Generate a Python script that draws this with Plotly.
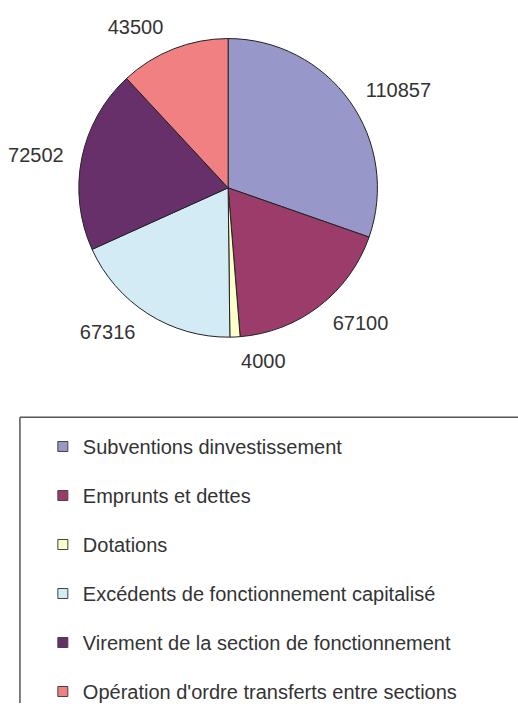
import plotly.graph_objects as go

labels = [
    "Subventions dinvestissement",
    "Emprunts et dettes",
    "Dotations",
    "Excédents de fonctionnement capitalisé",
    "Virement de la section de fonctionnement",
    "Opération d'ordre transferts entre sections",
]
values = [110857, 67100, 4000, 67316, 72502, 43500]
colors = ["#9797CA", "#9B3C6A", "#FFFFCC", "#D2EBF5", "#67306B", "#F08082"]

W, H = 518, 711
CX, CY, R = 227, 190, 151      # pie centre / radius in pixels
RL = 164                        # radius at which the value labels sit

fig = go.Figure()

# visible pie (no text)
fig.add_trace(go.Pie(
    labels=labels, values=values, sort=False, direction="clockwise", rotation=0,
    marker=dict(colors=colors, line=dict(color="#222222", width=1)),
    textinfo="none", showlegend=False, hoverinfo="label+value",
    domain=dict(x=[(CX - R) / W, (CX + R) / W], y=[1 - (CY + R) / H, 1 - (CY - R) / H]),
))

# transparent companion pie carrying the outside value labels
fig.add_trace(go.Pie(
    labels=labels, values=values, sort=False, direction="clockwise", rotation=0,
    marker=dict(colors=["rgba(0,0,0,0)"] * len(values), line=dict(width=0)),
    textinfo="value", textposition="outside", texttemplate="%{value:d}",
    outsidetextfont=dict(family="Liberation Sans, Arial", size=20, color="#333333"),
    showlegend=False, hoverinfo="skip",
    domain=dict(x=[(CX - RL) / W, (CX + RL) / W], y=[1 - (CY + RL) / H, 1 - (CY - RL) / H]),
))

# legend entries (one per category)
for lab, col in zip(labels, colors):
    fig.add_trace(go.Scatter(
        x=[None], y=[None], mode="markers", name=lab, legendgroup=lab,
        marker=dict(symbol="square", size=10, color=col, line=dict(color="#444444", width=1)),
    ))

box_left, box_top = 18 / W, 1 - 422 / H
fig.update_layout(
    width=W, height=H,
    margin=dict(l=0, r=0, t=0, b=0),
    paper_bgcolor="white", plot_bgcolor="white",
    xaxis=dict(visible=False), yaxis=dict(visible=False),
    legend=dict(
        x=41 / W, y=1 - 432 / H, xanchor="left", yanchor="top",
        font=dict(family="Liberation Sans, Arial", size=20, color="#333333"),
        tracegroupgap=20, bgcolor="rgba(0,0,0,0)", borderwidth=0,
        maxheight=1.0,
        itemclick=False, itemdoubleclick=False,
    ),
    shapes=[
        dict(type="line", xref="paper", yref="paper", x0=box_left, x1=1.0,
             y0=box_top, y1=box_top, line=dict(color="#555555", width=1.5)),
        dict(type="line", xref="paper", yref="paper", x0=box_left, x1=box_left,
             y0=box_top, y1=0, line=dict(color="#555555", width=1.5)),
    ],
)

fig.write_html("out.html", config={"displayModeBar": False},
               post_script="document.body.style.margin='0';document.body.style.overflow='hidden';")
